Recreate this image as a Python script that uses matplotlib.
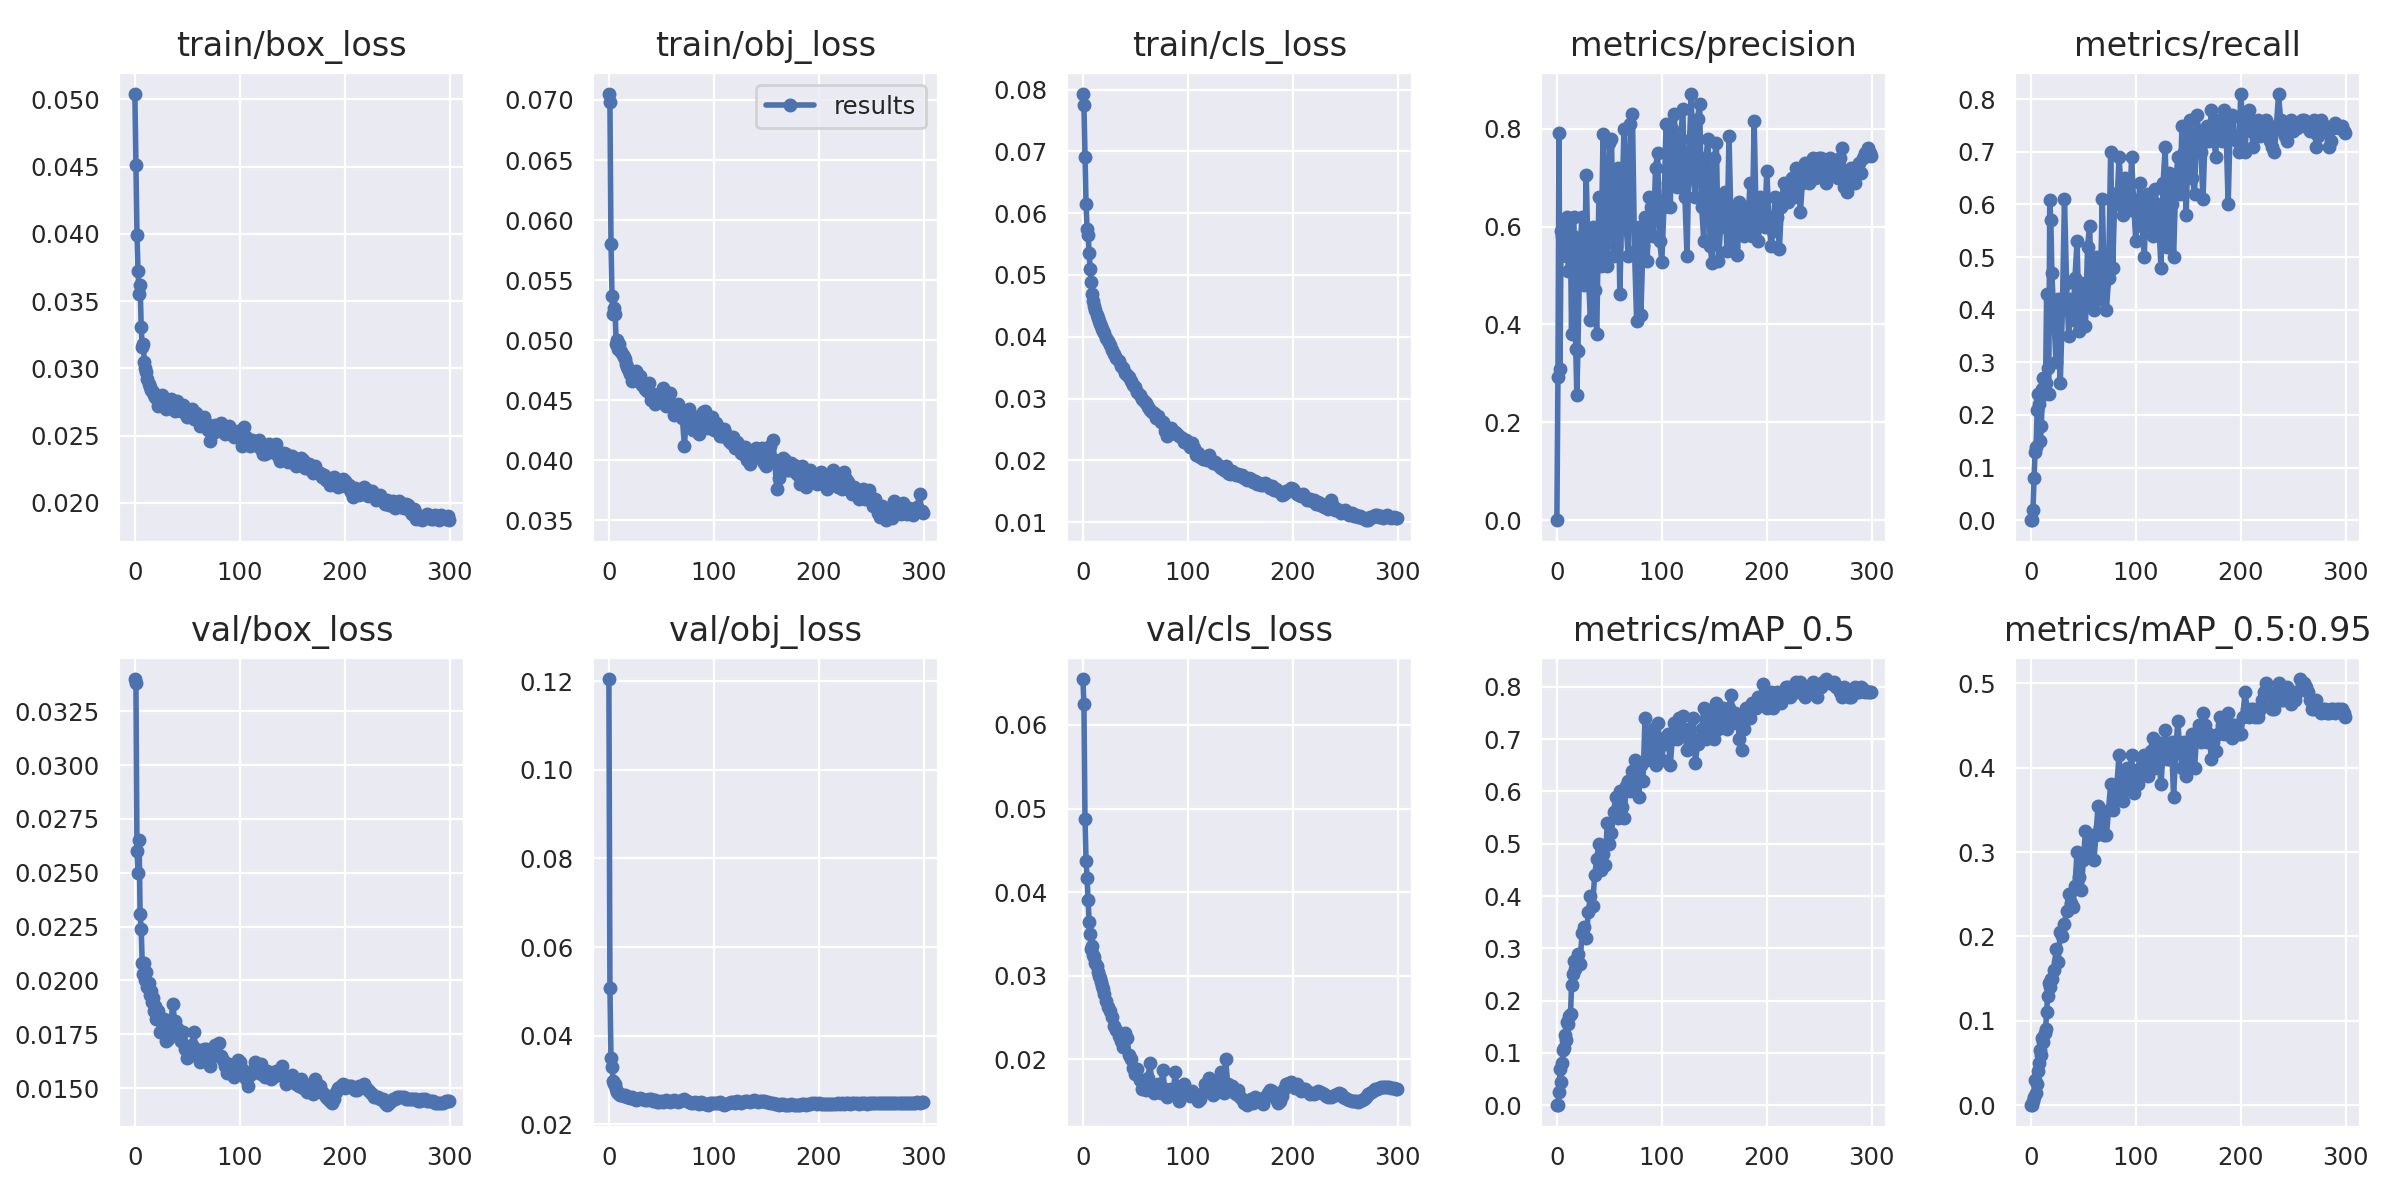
import matplotlib
matplotlib.use("Agg")
import matplotlib.pyplot as plt
import seaborn as sns

# epochs: every epoch at the start, then every 2nd epoch
epochs = list(range(0, 20)) + list(range(20, 300, 2)) + [299]

train_box_loss = [
    0.0504, 0.0451, 0.0399, 0.0372, 0.0355, 0.0362, 0.0331, 0.0316, 0.0318, 0.0305,
    0.0300, 0.0297, 0.0292, 0.0288, 0.0286, 0.0284, 0.0283, 0.0282, 0.0280, 0.0279,
    0.0278, 0.0272, 0.0274, 0.0280, 0.0276, 0.0270, 0.0271, 0.0277, 0.0273, 0.0268,
    0.0276, 0.0270, 0.0268, 0.0273, 0.0269, 0.0264, 0.0266, 0.0270, 0.0262, 0.0267,
    0.0263, 0.0257, 0.0260, 0.0264, 0.0259, 0.0254, 0.0246, 0.0252, 0.0258, 0.0253,
    0.0255, 0.0259, 0.0256, 0.0251, 0.0252, 0.0257, 0.0254, 0.0249, 0.0250, 0.0253,
    0.0248, 0.0242, 0.0256, 0.0249, 0.0246, 0.0242, 0.0247, 0.0243, 0.0243, 0.0247,
    0.0240, 0.0236, 0.0236, 0.0242, 0.0244, 0.0238, 0.0240, 0.0244, 0.0235, 0.0231,
    0.0233, 0.0237, 0.0236, 0.0230, 0.0231, 0.0235, 0.0230, 0.0227, 0.0228, 0.0233,
    0.0232, 0.0226, 0.0226, 0.0229, 0.0225, 0.0222, 0.0227, 0.0223, 0.0222, 0.0219,
    0.0221, 0.0217, 0.0218, 0.0213, 0.0216, 0.0219, 0.0217, 0.0212, 0.0214, 0.0218,
    0.0216, 0.0212, 0.0213, 0.0208, 0.0204, 0.0211, 0.0210, 0.0206, 0.0209, 0.0212,
    0.0210, 0.0205, 0.0206, 0.0209, 0.0206, 0.0202, 0.0203, 0.0206, 0.0201, 0.0199,
    0.0202, 0.0198, 0.0198, 0.0201, 0.0196, 0.0199, 0.0201, 0.0197, 0.0196, 0.0199,
    0.0198, 0.0194, 0.0192, 0.0195, 0.0188, 0.0191, 0.0190, 0.0187, 0.0189, 0.0192,
    0.0191, 0.0188, 0.0188, 0.0191, 0.0190, 0.0187, 0.0191, 0.0189, 0.0188, 0.0190,
    0.0187,
]

train_obj_loss = [
    0.0705, 0.0698, 0.0580, 0.0537, 0.0522, 0.0527, 0.0522, 0.0497, 0.0500, 0.0493,
    0.0497, 0.0492, 0.0490, 0.0488, 0.0486, 0.0484, 0.0480, 0.0478, 0.0476, 0.0474,
    0.0472, 0.0466, 0.0468, 0.0474, 0.0466, 0.0470, 0.0463, 0.0459, 0.0458, 0.0464,
    0.0450, 0.0455, 0.0447, 0.0452, 0.0455, 0.0449, 0.0460, 0.0445, 0.0450, 0.0456,
    0.0446, 0.0438, 0.0440, 0.0447, 0.0443, 0.0435, 0.0412, 0.0440, 0.0443, 0.0432,
    0.0425, 0.0436, 0.0428, 0.0422, 0.0433, 0.0440, 0.0441, 0.0427, 0.0430, 0.0436,
    0.0425, 0.0431, 0.0428, 0.0420, 0.0420, 0.0426, 0.0422, 0.0416, 0.0414, 0.0419,
    0.0410, 0.0415, 0.0413, 0.0406, 0.0405, 0.0411, 0.0400, 0.0397, 0.0408, 0.0403,
    0.0410, 0.0404, 0.0402, 0.0410, 0.0398, 0.0395, 0.0405, 0.0412, 0.0417, 0.0400,
    0.0376, 0.0385, 0.0395, 0.0402, 0.0400, 0.0392, 0.0392, 0.0398, 0.0396, 0.0389,
    0.0388, 0.0380, 0.0395, 0.0386, 0.0378, 0.0390, 0.0392, 0.0384, 0.0386, 0.0380,
    0.0384, 0.0390, 0.0380, 0.0386, 0.0376, 0.0382, 0.0388, 0.0392, 0.0385, 0.0378,
    0.0380, 0.0376, 0.0390, 0.0384, 0.0382, 0.0375, 0.0372, 0.0378, 0.0374, 0.0368,
    0.0370, 0.0376, 0.0368, 0.0372, 0.0375, 0.0366, 0.0362, 0.0368, 0.0356, 0.0353,
    0.0362, 0.0356, 0.0350, 0.0360, 0.0358, 0.0352, 0.0366, 0.0356, 0.0360, 0.0355,
    0.0364, 0.0357, 0.0355, 0.0360, 0.0358, 0.0354, 0.0357, 0.0361, 0.0372, 0.0358,
    0.0356,
]

train_cls_loss = [
    0.0793, 0.0775, 0.0691, 0.0615, 0.0575, 0.0565, 0.0535, 0.0510, 0.0488, 0.0470,
    0.0458, 0.0450, 0.0443, 0.0436, 0.0430, 0.0426, 0.0421, 0.0417, 0.0413, 0.0410,
    0.0406, 0.0398, 0.0393, 0.0386, 0.0378, 0.0372, 0.0365, 0.0360, 0.0352, 0.0349,
    0.0342, 0.0338, 0.0335, 0.0328, 0.0322, 0.0318, 0.0310, 0.0306, 0.0300, 0.0296,
    0.0292, 0.0287, 0.0282, 0.0278, 0.0276, 0.0268, 0.0272, 0.0262, 0.0262, 0.0248,
    0.0240, 0.0250, 0.0252, 0.0244, 0.0246, 0.0242, 0.0240, 0.0236, 0.0230, 0.0233,
    0.0226, 0.0222, 0.0228, 0.0220, 0.0208, 0.0212, 0.0206, 0.0202, 0.0204, 0.0200,
    0.0209, 0.0200, 0.0196, 0.0198, 0.0194, 0.0190, 0.0188, 0.0184, 0.0190, 0.0180,
    0.0178, 0.0182, 0.0180, 0.0176, 0.0178, 0.0174, 0.0176, 0.0172, 0.0168, 0.0172,
    0.0170, 0.0165, 0.0166, 0.0162, 0.0164, 0.0160, 0.0160, 0.0163, 0.0160, 0.0156,
    0.0158, 0.0152, 0.0154, 0.0150, 0.0148, 0.0144, 0.0146, 0.0150, 0.0150, 0.0156,
    0.0154, 0.0148, 0.0146, 0.0144, 0.0142, 0.0145, 0.0140, 0.0136, 0.0138, 0.0134,
    0.0135, 0.0130, 0.0133, 0.0128, 0.0130, 0.0125, 0.0127, 0.0122, 0.0136, 0.0126,
    0.0120, 0.0122, 0.0118, 0.0115, 0.0116, 0.0119, 0.0116, 0.0112, 0.0114, 0.0110,
    0.0112, 0.0108, 0.0110, 0.0106, 0.0106, 0.0103, 0.0104, 0.0108, 0.0108, 0.0112,
    0.0111, 0.0108, 0.0110, 0.0107, 0.0109, 0.0111, 0.0109, 0.0107, 0.0108, 0.0106,
    0.0106,
]

precision = [
    0.000, 0.293, 0.792, 0.310, 0.590, 0.580, 0.610, 0.550, 0.600, 0.540,
    0.620, 0.510, 0.600, 0.560, 0.380, 0.580, 0.620, 0.520, 0.350, 0.255,
    0.345, 0.560, 0.620, 0.480, 0.705, 0.500, 0.410, 0.600, 0.470, 0.380,
    0.660, 0.520, 0.790, 0.600, 0.520, 0.770, 0.780, 0.540, 0.560, 0.720,
    0.463, 0.650, 0.800, 0.600, 0.540, 0.810, 0.830, 0.550, 0.408, 0.600,
    0.420, 0.560, 0.620, 0.530, 0.660, 0.640, 0.580, 0.720, 0.750, 0.570,
    0.528, 0.640, 0.810, 0.690, 0.640, 0.800, 0.830, 0.680, 0.700, 0.780,
    0.840, 0.660, 0.540, 0.750, 0.871, 0.700, 0.660, 0.820, 0.850, 0.640,
    0.570, 0.740, 0.780, 0.560, 0.525, 0.740, 0.770, 0.530, 0.600, 0.650,
    0.670, 0.550, 0.786, 0.600, 0.560, 0.640, 0.543, 0.650, 0.620, 0.580,
    0.640, 0.600, 0.690, 0.580, 0.815, 0.600, 0.570, 0.660, 0.630, 0.600,
    0.714, 0.620, 0.560, 0.590, 0.660, 0.620, 0.555, 0.640, 0.690, 0.660,
    0.650, 0.680, 0.700, 0.660, 0.720, 0.700, 0.630, 0.690, 0.730, 0.710,
    0.690, 0.720, 0.740, 0.700, 0.720, 0.740, 0.740, 0.700, 0.690, 0.720,
    0.740, 0.710, 0.730, 0.720, 0.700, 0.740, 0.760, 0.680, 0.670, 0.710,
    0.720, 0.700, 0.690, 0.720, 0.730, 0.710, 0.740, 0.750, 0.760, 0.750,
    0.745,
]

recall = [
    0.000, 0.000, 0.020, 0.080, 0.130, 0.140, 0.210, 0.240, 0.220, 0.150,
    0.180, 0.250, 0.270, 0.240, 0.260, 0.430, 0.290, 0.240, 0.609, 0.570,
    0.470, 0.380, 0.300, 0.420, 0.260, 0.400, 0.610, 0.450, 0.350, 0.420,
    0.380, 0.460, 0.530, 0.360, 0.450, 0.420, 0.370, 0.520, 0.560, 0.410,
    0.400, 0.500, 0.470, 0.420, 0.610, 0.450, 0.400, 0.460, 0.700, 0.480,
    0.620, 0.600, 0.690, 0.630, 0.580, 0.650, 0.610, 0.590, 0.690, 0.600,
    0.530, 0.600, 0.640, 0.560, 0.500, 0.610, 0.620, 0.560, 0.540, 0.630,
    0.600, 0.560, 0.480, 0.640, 0.710, 0.520, 0.660, 0.600, 0.500, 0.640,
    0.690, 0.620, 0.750, 0.700, 0.580, 0.730, 0.760, 0.650, 0.620, 0.770,
    0.740, 0.700, 0.610, 0.730, 0.750, 0.720, 0.780, 0.740, 0.690, 0.760,
    0.750, 0.720, 0.780, 0.740, 0.600, 0.760, 0.770, 0.730, 0.720, 0.700,
    0.810, 0.750, 0.700, 0.770, 0.780, 0.740, 0.710, 0.750, 0.760, 0.730,
    0.750, 0.740, 0.760, 0.730, 0.720, 0.710, 0.700, 0.750, 0.810, 0.760,
    0.740, 0.730, 0.720, 0.750, 0.760, 0.740, 0.750, 0.745, 0.755, 0.760,
    0.760, 0.750, 0.745, 0.740, 0.740, 0.760, 0.710, 0.730, 0.760, 0.740,
    0.750, 0.745, 0.710, 0.720, 0.745, 0.755, 0.750, 0.745, 0.750, 0.740,
    0.735,
]

val_box_loss = [
    0.0340, 0.0338, 0.0260, 0.0250, 0.0265, 0.0231, 0.0224, 0.0208, 0.0203, 0.0208,
    0.0200, 0.0204, 0.0197, 0.0199, 0.0193, 0.0195, 0.0190, 0.0192, 0.0186, 0.0188,
    0.0182, 0.0186, 0.0176, 0.0180, 0.0182, 0.0172, 0.0173, 0.0178, 0.0189, 0.0181,
    0.0178, 0.0174, 0.0172, 0.0176, 0.0168, 0.0164, 0.0165, 0.0170, 0.0176, 0.0168,
    0.0165, 0.0162, 0.0164, 0.0168, 0.0168, 0.0162, 0.0160, 0.0165, 0.0170, 0.0166,
    0.0171, 0.0165, 0.0163, 0.0160, 0.0157, 0.0161, 0.0158, 0.0155, 0.0160, 0.0163,
    0.0162, 0.0159, 0.0157, 0.0154, 0.0151, 0.0156, 0.0158, 0.0162, 0.0160, 0.0157,
    0.0161, 0.0156, 0.0155, 0.0158, 0.0156, 0.0154, 0.0155, 0.0158, 0.0156, 0.0157,
    0.0160, 0.0155, 0.0152, 0.0153, 0.0154, 0.0156, 0.0153, 0.0152, 0.0151, 0.0154,
    0.0150, 0.0152, 0.0148, 0.0149, 0.0150, 0.0147, 0.0154, 0.0152, 0.0151, 0.0148,
    0.0147, 0.0146, 0.0145, 0.0144, 0.0143, 0.0145, 0.0148, 0.0150, 0.0151, 0.0152,
    0.0150, 0.0151, 0.0151, 0.0151, 0.0150, 0.0149, 0.0149, 0.0151, 0.0151, 0.0152,
    0.0150, 0.0149, 0.0148, 0.0147, 0.0146, 0.0146, 0.0146, 0.0145, 0.0145, 0.0143,
    0.0142, 0.0143, 0.0144, 0.0145, 0.0145, 0.0146, 0.0146, 0.0146, 0.0146, 0.0145,
    0.0145, 0.0145, 0.0145, 0.0145, 0.0145, 0.0144, 0.0144, 0.0145, 0.0145, 0.0144,
    0.0144, 0.0144, 0.0144, 0.0143, 0.0143, 0.0143, 0.0143, 0.0143, 0.0144, 0.0144,
    0.0144,
]

val_obj_loss = [
    0.1205, 0.0507, 0.0350, 0.0330, 0.0298, 0.0290, 0.0292, 0.0280, 0.0272, 0.0270,
    0.0268, 0.0267, 0.0266, 0.0265, 0.0264, 0.0265, 0.0263, 0.0262, 0.0262, 0.0261,
    0.0260, 0.0262, 0.0258, 0.0255, 0.0256, 0.0259, 0.0257, 0.0254, 0.0255, 0.0258,
    0.0257, 0.0253, 0.0254, 0.0251, 0.0250, 0.0253, 0.0251, 0.0255, 0.0252, 0.0250,
    0.0252, 0.0255, 0.0253, 0.0250, 0.0252, 0.0254, 0.0256, 0.0252, 0.0250, 0.0248,
    0.0247, 0.0250, 0.0249, 0.0246, 0.0251, 0.0248, 0.0246, 0.0244, 0.0247, 0.0249,
    0.0249, 0.0247, 0.0248, 0.0250, 0.0246, 0.0243, 0.0245, 0.0248, 0.0250, 0.0251,
    0.0249, 0.0252, 0.0250, 0.0248, 0.0251, 0.0253, 0.0252, 0.0250, 0.0252, 0.0254,
    0.0253, 0.0251, 0.0253, 0.0252, 0.0252, 0.0250, 0.0251, 0.0249, 0.0248, 0.0246,
    0.0245, 0.0244, 0.0245, 0.0246, 0.0244, 0.0243, 0.0244, 0.0245, 0.0243, 0.0244,
    0.0244, 0.0243, 0.0245, 0.0246, 0.0244, 0.0245, 0.0246, 0.0247, 0.0247, 0.0246,
    0.0247, 0.0246, 0.0246, 0.0245, 0.0246, 0.0245, 0.0245, 0.0246, 0.0246, 0.0247,
    0.0246, 0.0247, 0.0246, 0.0247, 0.0247, 0.0246, 0.0247, 0.0248, 0.0247, 0.0246,
    0.0247, 0.0248, 0.0247, 0.0246, 0.0247, 0.0248, 0.0247, 0.0248, 0.0248, 0.0247,
    0.0248, 0.0247, 0.0248, 0.0249, 0.0248, 0.0247, 0.0247, 0.0248, 0.0247, 0.0248,
    0.0248, 0.0249, 0.0248, 0.0247, 0.0248, 0.0249, 0.0249, 0.0250, 0.0249, 0.0250,
    0.0250,
]

val_cls_loss = [
    0.0655, 0.0625, 0.0488, 0.0437, 0.0417, 0.0390, 0.0364, 0.0350, 0.0332, 0.0336,
    0.0325, 0.0322, 0.0315, 0.0312, 0.0305, 0.0300, 0.0297, 0.0292, 0.0288, 0.0284,
    0.0278, 0.0270, 0.0262, 0.0258, 0.0250, 0.0240, 0.0235, 0.0228, 0.0222, 0.0215,
    0.0232, 0.0225, 0.0205, 0.0200, 0.0190, 0.0182, 0.0188, 0.0175, 0.0165, 0.0170,
    0.0163, 0.0178, 0.0195, 0.0168, 0.0160, 0.0165, 0.0170, 0.0160, 0.0187, 0.0165,
    0.0155, 0.0162, 0.0165, 0.0158, 0.0185, 0.0160, 0.0150, 0.0162, 0.0170, 0.0158,
    0.0160, 0.0156, 0.0162, 0.0158, 0.0155, 0.0150, 0.0152, 0.0160, 0.0170, 0.0162,
    0.0178, 0.0165, 0.0157, 0.0160, 0.0165, 0.0175, 0.0185, 0.0160, 0.0200, 0.0170,
    0.0162, 0.0168, 0.0162, 0.0158, 0.0163, 0.0155, 0.0152, 0.0148, 0.0145, 0.0150,
    0.0152, 0.0148, 0.0155, 0.0150, 0.0150, 0.0152, 0.0147, 0.0155, 0.0160, 0.0163,
    0.0162, 0.0158, 0.0152, 0.0148, 0.0150, 0.0156, 0.0165, 0.0170, 0.0172, 0.0173,
    0.0168, 0.0166, 0.0170, 0.0167, 0.0162, 0.0164, 0.0165, 0.0162, 0.0158, 0.0160,
    0.0158, 0.0160, 0.0162, 0.0161, 0.0160, 0.0158, 0.0156, 0.0155, 0.0155, 0.0156,
    0.0157, 0.0159, 0.0160, 0.0158, 0.0155, 0.0154, 0.0152, 0.0151, 0.0150, 0.0150,
    0.0150, 0.0149, 0.0150, 0.0151, 0.0152, 0.0155, 0.0158, 0.0160, 0.0162, 0.0164,
    0.0165, 0.0166, 0.0167, 0.0167, 0.0167, 0.0167, 0.0167, 0.0166, 0.0166, 0.0165,
    0.0165,
]

map_50 = [
    0.000, 0.000, 0.025, 0.070, 0.045, 0.080, 0.105, 0.110, 0.135, 0.125,
    0.160, 0.155, 0.170, 0.175, 0.230, 0.250, 0.275, 0.260, 0.270, 0.280,
    0.290, 0.270, 0.330, 0.340, 0.320, 0.370, 0.400, 0.380, 0.440, 0.470,
    0.500, 0.450, 0.480, 0.460, 0.540, 0.500, 0.520, 0.560, 0.590, 0.550,
    0.600, 0.570, 0.550, 0.610, 0.620, 0.600, 0.640, 0.660, 0.620, 0.590,
    0.650, 0.620, 0.740, 0.660, 0.700, 0.680, 0.720, 0.650, 0.730, 0.700,
    0.660, 0.700, 0.690, 0.710, 0.650, 0.700, 0.730, 0.700, 0.740, 0.720,
    0.745, 0.710, 0.680, 0.720, 0.700, 0.740, 0.655, 0.690, 0.700, 0.720,
    0.760, 0.700, 0.710, 0.740, 0.750, 0.700, 0.770, 0.720, 0.740, 0.760,
    0.750, 0.720, 0.760, 0.785, 0.730, 0.750, 0.740, 0.700, 0.680, 0.720,
    0.760, 0.750, 0.740, 0.770, 0.770, 0.760, 0.780, 0.770, 0.805, 0.780,
    0.760, 0.780, 0.790, 0.760, 0.770, 0.790, 0.780, 0.770, 0.790, 0.800,
    0.800, 0.780, 0.790, 0.800, 0.810, 0.790, 0.810, 0.800, 0.780, 0.790,
    0.790, 0.800, 0.810, 0.790, 0.780, 0.800, 0.800, 0.810, 0.815, 0.810,
    0.810, 0.805, 0.810, 0.800, 0.800, 0.790, 0.780, 0.800, 0.790, 0.780,
    0.780, 0.790, 0.800, 0.790, 0.790, 0.800, 0.795, 0.790, 0.790, 0.790,
    0.790,
]

map_50_95 = [
    0.000, 0.000, 0.005, 0.010, 0.030, 0.015, 0.025, 0.040, 0.050, 0.065,
    0.060, 0.080, 0.075, 0.085, 0.090, 0.110, 0.130, 0.145, 0.140, 0.150,
    0.150, 0.160, 0.185, 0.170, 0.205, 0.200, 0.215, 0.230, 0.250, 0.240,
    0.235, 0.260, 0.300, 0.270, 0.255, 0.290, 0.325, 0.300, 0.310, 0.320,
    0.290, 0.320, 0.355, 0.330, 0.340, 0.320, 0.320, 0.350, 0.380, 0.350,
    0.360, 0.380, 0.415, 0.370, 0.360, 0.390, 0.400, 0.380, 0.415, 0.370,
    0.390, 0.380, 0.400, 0.410, 0.415, 0.400, 0.390, 0.420, 0.435, 0.400,
    0.430, 0.410, 0.380, 0.420, 0.445, 0.410, 0.410, 0.430, 0.365, 0.420,
    0.455, 0.420, 0.400, 0.430, 0.390, 0.410, 0.430, 0.440, 0.400, 0.440,
    0.450, 0.430, 0.465, 0.450, 0.430, 0.440, 0.410, 0.430, 0.420, 0.440,
    0.460, 0.450, 0.440, 0.455, 0.465, 0.450, 0.435, 0.450, 0.450, 0.440,
    0.440, 0.460, 0.490, 0.470, 0.460, 0.470, 0.470, 0.460, 0.460, 0.470,
    0.480, 0.490, 0.500, 0.490, 0.485, 0.470, 0.470, 0.490, 0.500, 0.480,
    0.480, 0.490, 0.495, 0.480, 0.475, 0.490, 0.480, 0.490, 0.505, 0.500,
    0.500, 0.495, 0.490, 0.480, 0.470, 0.470, 0.480, 0.470, 0.465, 0.470,
    0.470, 0.465, 0.465, 0.470, 0.470, 0.465, 0.470, 0.470, 0.470, 0.465,
    0.460,
]

titles = ['train/box_loss', 'train/obj_loss', 'train/cls_loss', 'metrics/precision', 'metrics/recall',
          'val/box_loss', 'val/obj_loss', 'val/cls_loss', 'metrics/mAP_0.5', 'metrics/mAP_0.5:0.95']
series = [train_box_loss, train_obj_loss, train_cls_loss, precision, recall,
          val_box_loss, val_obj_loss, val_cls_loss, map_50, map_50_95]

sns.set_style('darkgrid')
plt.rcParams['font.family'] = ['DejaVu Sans']
plt.rcParams['xtick.labelsize'] = 8.8
plt.rcParams['ytick.labelsize'] = 8.8
plt.rcParams['legend.fontsize'] = 8.8

fig, ax = plt.subplots(2, 5, figsize=(12, 6), tight_layout=True)
ax = ax.ravel()
for i, (title, y) in enumerate(zip(titles, series)):
    ax[i].plot(epochs, y, marker='.', label='results', linewidth=2, markersize=8, color='#4C72B0')
    ax[i].set_title(title, fontsize=12)
    ax[i].set_xticks([0, 100, 200, 300])

ax[1].legend()
fig.savefig('out.png', dpi=200)
